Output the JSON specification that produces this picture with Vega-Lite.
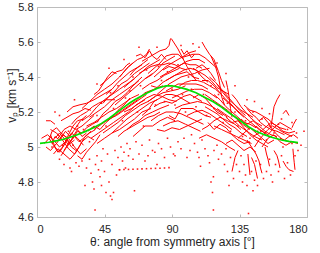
{
"$schema": "https://vega.github.io/schema/vega-lite/v6.json",
"width": 270, "height": 210,
"autosize": {"type": "none"},
"padding": {"left": 37, "top": 7, "right": 13, "bottom": 36},
"background": "white",
"config": {
 "view": {"stroke": "#bcbcbc", "strokeWidth": 1},
 "axis": {"labelFont": "Liberation Sans", "titleFont": "Liberation Sans", "labelFontSize": 11, "titleFontSize": 12, "titleFontWeight": "normal", "labelColor": "#262626", "titleColor": "#262626", "domainColor": "#bcbcbc", "tickColor": "#bcbcbc", "grid": false, "tickSize": -3}
},
"datasets": {
"trails": [
{"i":1,"t":3,"v":5.05},{"i":1,"t":7,"v":5.07},{"i":1,"t":11,"v":5.04},{"i":1,"t":15,"v":5.00},{"i":1,"t":19,"v":5.03},{"i":1,"t":23,"v":5.08},{"i":1,"t":27,"v":5.05},{"i":1,"t":31,"v":5.01},
{"i":2,"t":6,"v":5.00},{"i":2,"t":9,"v":4.98},{"i":2,"t":13,"v":5.02},{"i":2,"t":17,"v":5.07},{"i":2,"t":21,"v":5.05},{"i":2,"t":25,"v":5.00},{"i":2,"t":29,"v":4.96},{"i":2,"t":33,"v":4.99},
{"i":3,"t":9,"v":5.10},{"i":3,"t":13,"v":5.08},{"i":3,"t":17,"v":5.04},{"i":3,"t":21,"v":4.99},{"i":3,"t":25,"v":4.96},{"i":3,"t":28,"v":5.00},{"i":3,"t":32,"v":5.06},{"i":3,"t":36,"v":5.09},
{"i":4,"t":11,"v":4.96},{"i":4,"t":14,"v":4.99},{"i":4,"t":18,"v":4.96},{"i":4,"t":22,"v":4.93},{"i":4,"t":26,"v":4.97},{"i":4,"t":30,"v":5.03},{"i":4,"t":34,"v":5.06},{"i":4,"t":38,"v":5.04},
{"i":5,"t":14,"v":5.05},{"i":5,"t":18,"v":5.10},{"i":5,"t":22,"v":5.12},{"i":5,"t":26,"v":5.10},{"i":5,"t":30,"v":5.12},{"i":5,"t":34,"v":5.15},{"i":5,"t":38,"v":5.18},
{"i":6,"t":16,"v":5.15},{"i":6,"t":20,"v":5.17},{"i":6,"t":24,"v":5.19},{"i":6,"t":28,"v":5.20},{"i":6,"t":32,"v":5.22},{"i":6,"t":36,"v":5.21},
{"i":7,"t":6,"v":5.15},{"i":7,"t":9,"v":5.15},{"i":7,"t":12,"v":5.13},
{"i":8,"t":18,"v":4.98},{"i":8,"t":21,"v":5.02},{"i":8,"t":24,"v":5.05},{"i":8,"t":27,"v":5.09},{"i":8,"t":30,"v":5.08},{"i":8,"t":33,"v":5.11},{"i":8,"t":37,"v":5.13},{"i":8,"t":41,"v":5.15},
{"i":9,"t":20,"v":5.20},{"i":9,"t":24,"v":5.23},{"i":9,"t":28,"v":5.24},{"i":9,"t":33,"v":5.25},{"i":9,"t":38,"v":5.27},{"i":9,"t":44,"v":5.30},{"i":9,"t":50,"v":5.33},
{"i":10,"t":10,"v":5.02},{"i":10,"t":12,"v":5.06},{"i":10,"t":15,"v":5.04},{"i":10,"t":19,"v":5.09},{"i":10,"t":22,"v":5.06},{"i":10,"t":25,"v":5.10},{"i":10,"t":29,"v":5.15},{"i":10,"t":33,"v":5.18},
{"i":11,"t":23,"v":5.13},{"i":11,"t":26,"v":5.16},{"i":11,"t":29,"v":5.18},{"i":11,"t":33,"v":5.20},{"i":11,"t":37,"v":5.23},{"i":11,"t":41,"v":5.25},{"i":11,"t":46,"v":5.27},{"i":11,"t":52,"v":5.27},
{"i":12,"t":27,"v":4.95},{"i":12,"t":30,"v":4.93},{"i":12,"t":33,"v":4.97},{"i":12,"t":36,"v":5.00},{"i":12,"t":39,"v":5.03},{"i":12,"t":42,"v":5.07},
{"i":13,"t":8,"v":5.04},{"i":13,"t":10,"v":5.09},{"i":13,"t":13,"v":5.11},{"i":13,"t":16,"v":5.08},{"i":13,"t":19,"v":5.06},{"i":13,"t":22,"v":5.02},{"i":13,"t":25,"v":5.04},
{"i":14,"t":30,"v":5.22},{"i":14,"t":35,"v":5.26},{"i":14,"t":40,"v":5.30},{"i":14,"t":45,"v":5.33},{"i":14,"t":50,"v":5.36},{"i":14,"t":55,"v":5.40},{"i":14,"t":60,"v":5.45},{"i":14,"t":64,"v":5.48},
{"i":15,"t":35,"v":5.17},{"i":15,"t":40,"v":5.20},{"i":15,"t":45,"v":5.23},{"i":15,"t":50,"v":5.27},{"i":15,"t":55,"v":5.30},{"i":15,"t":60,"v":5.33},{"i":15,"t":65,"v":5.36},{"i":15,"t":70,"v":5.40},
{"i":16,"t":33,"v":5.12},{"i":16,"t":38,"v":5.14},{"i":16,"t":43,"v":5.17},{"i":16,"t":48,"v":5.20},{"i":16,"t":53,"v":5.22},{"i":16,"t":58,"v":5.25},{"i":16,"t":63,"v":5.28},{"i":16,"t":68,"v":5.30},
{"i":17,"t":36,"v":5.05},{"i":17,"t":41,"v":5.08},{"i":17,"t":46,"v":5.11},{"i":17,"t":51,"v":5.14},{"i":17,"t":56,"v":5.17},{"i":17,"t":61,"v":5.20},{"i":17,"t":66,"v":5.24},{"i":17,"t":72,"v":5.27},
{"i":18,"t":40,"v":5.02},{"i":18,"t":45,"v":5.05},{"i":18,"t":50,"v":5.08},{"i":18,"t":55,"v":5.10},{"i":18,"t":60,"v":5.13},{"i":18,"t":65,"v":5.16},{"i":18,"t":70,"v":5.20},{"i":18,"t":76,"v":5.22},
{"i":19,"t":42,"v":5.35},{"i":19,"t":46,"v":5.38},{"i":19,"t":50,"v":5.41},{"i":19,"t":53,"v":5.43},{"i":19,"t":57,"v":5.44},{"i":19,"t":60,"v":5.47},{"i":19,"t":62,"v":5.48},
{"i":20,"t":44,"v":5.25},{"i":20,"t":48,"v":5.29},{"i":20,"t":52,"v":5.32},{"i":20,"t":56,"v":5.36},{"i":20,"t":60,"v":5.38},{"i":20,"t":65,"v":5.42},{"i":20,"t":70,"v":5.45},{"i":20,"t":75,"v":5.48},
{"i":21,"t":47,"v":5.15},{"i":21,"t":52,"v":5.18},{"i":21,"t":57,"v":5.21},{"i":21,"t":62,"v":5.24},{"i":21,"t":67,"v":5.27},{"i":21,"t":72,"v":5.31},{"i":21,"t":78,"v":5.33},{"i":21,"t":84,"v":5.35},
{"i":22,"t":50,"v":5.08},{"i":22,"t":55,"v":5.12},{"i":22,"t":60,"v":5.16},{"i":22,"t":65,"v":5.19},{"i":22,"t":70,"v":5.22},{"i":22,"t":75,"v":5.25},{"i":22,"t":80,"v":5.27},
{"i":23,"t":52,"v":5.24},{"i":23,"t":56,"v":5.27},{"i":23,"t":60,"v":5.30},{"i":23,"t":64,"v":5.33},{"i":23,"t":68,"v":5.36},{"i":23,"t":72,"v":5.39},{"i":23,"t":77,"v":5.42},
{"i":24,"t":55,"v":5.40},{"i":24,"t":58,"v":5.43},{"i":24,"t":61,"v":5.46},{"i":24,"t":64,"v":5.48},{"i":24,"t":67,"v":5.50},{"i":24,"t":70,"v":5.51},{"i":24,"t":73,"v":5.53},{"i":24,"t":75,"v":5.56},
{"i":25,"t":58,"v":5.34},{"i":25,"t":62,"v":5.37},{"i":25,"t":66,"v":5.40},{"i":25,"t":70,"v":5.43},{"i":25,"t":74,"v":5.46},{"i":25,"t":78,"v":5.48},{"i":25,"t":82,"v":5.50},
{"i":26,"t":38,"v":5.30},{"i":26,"t":41,"v":5.32},{"i":26,"t":44,"v":5.36},{"i":26,"t":47,"v":5.40},{"i":26,"t":50,"v":5.43},{"i":26,"t":53,"v":5.42},
{"i":27,"t":60,"v":5.10},{"i":27,"t":64,"v":5.13},{"i":27,"t":68,"v":5.15},{"i":27,"t":72,"v":5.18},{"i":27,"t":77,"v":5.20},{"i":27,"t":82,"v":5.22},{"i":27,"t":88,"v":5.24},
{"i":28,"t":66,"v":5.52},{"i":28,"t":69,"v":5.53},{"i":28,"t":72,"v":5.51},{"i":28,"t":75,"v":5.55},{"i":28,"t":77,"v":5.52},{"i":28,"t":80,"v":5.50},{"i":28,"t":83,"v":5.53},{"i":28,"t":86,"v":5.50},
{"i":29,"t":70,"v":5.49},{"i":29,"t":74,"v":5.51},{"i":29,"t":78,"v":5.53},{"i":29,"t":82,"v":5.55},{"i":29,"t":86,"v":5.56},{"i":29,"t":88,"v":5.58},{"i":29,"t":89,"v":5.62},
{"i":30,"t":89.5,"v":5.62},{"i":30,"t":91,"v":5.60},{"i":30,"t":94,"v":5.56},{"i":30,"t":97,"v":5.51},{"i":30,"t":100,"v":5.46},{"i":30,"t":103,"v":5.42},{"i":30,"t":106,"v":5.38},
{"i":31,"t":110,"v":5.60},{"i":31,"t":112,"v":5.57},{"i":31,"t":115,"v":5.53},{"i":31,"t":118,"v":5.50},{"i":31,"t":121,"v":5.43},{"i":31,"t":123,"v":5.38},{"i":31,"t":125,"v":5.34},
{"i":32,"t":116,"v":5.52},{"i":32,"t":119,"v":5.46},{"i":32,"t":121,"v":5.40},{"i":32,"t":122,"v":5.35},{"i":32,"t":123,"v":5.29},{"i":32,"t":125,"v":5.24},
{"i":33,"t":126,"v":5.38},{"i":33,"t":127,"v":5.34},{"i":33,"t":128,"v":5.29},{"i":33,"t":129,"v":5.22},{"i":33,"t":130,"v":5.17},
{"i":34,"t":78,"v":5.40},{"i":34,"t":82,"v":5.43},{"i":34,"t":86,"v":5.46},{"i":34,"t":90,"v":5.48},{"i":34,"t":94,"v":5.50},{"i":34,"t":98,"v":5.52},{"i":34,"t":102,"v":5.54},{"i":34,"t":106,"v":5.55},
{"i":35,"t":80,"v":5.30},{"i":35,"t":84,"v":5.33},{"i":35,"t":88,"v":5.36},{"i":35,"t":92,"v":5.38},{"i":35,"t":96,"v":5.40},{"i":35,"t":100,"v":5.41},{"i":35,"t":105,"v":5.42},{"i":35,"t":110,"v":5.44},{"i":35,"t":115,"v":5.45},
{"i":36,"t":84,"v":5.44},{"i":36,"t":88,"v":5.46},{"i":36,"t":92,"v":5.45},{"i":36,"t":96,"v":5.47},{"i":36,"t":100,"v":5.49},{"i":36,"t":104,"v":5.50},{"i":36,"t":108,"v":5.50},{"i":36,"t":112,"v":5.48},
{"i":37,"t":86,"v":5.38},{"i":37,"t":90,"v":5.40},{"i":37,"t":94,"v":5.42},{"i":37,"t":98,"v":5.44},{"i":37,"t":102,"v":5.45},{"i":37,"t":106,"v":5.44},{"i":37,"t":110,"v":5.40},{"i":37,"t":114,"v":5.37},
{"i":38,"t":90,"v":5.28},{"i":38,"t":95,"v":5.30},{"i":38,"t":100,"v":5.32},{"i":38,"t":105,"v":5.33},{"i":38,"t":110,"v":5.33},{"i":38,"t":115,"v":5.31},{"i":38,"t":120,"v":5.28},
{"i":39,"t":92,"v":5.22},{"i":39,"t":97,"v":5.24},{"i":39,"t":102,"v":5.25},{"i":39,"t":107,"v":5.26},{"i":39,"t":112,"v":5.25},{"i":39,"t":117,"v":5.23},{"i":39,"t":122,"v":5.20},{"i":39,"t":127,"v":5.17},
{"i":40,"t":95,"v":5.35},{"i":40,"t":99,"v":5.37},{"i":40,"t":103,"v":5.38},{"i":40,"t":107,"v":5.38},{"i":40,"t":111,"v":5.37},{"i":40,"t":115,"v":5.35},{"i":40,"t":119,"v":5.33},{"i":40,"t":123,"v":5.30},
{"i":41,"t":100,"v":5.18},{"i":41,"t":105,"v":5.20},{"i":41,"t":110,"v":5.21},{"i":41,"t":115,"v":5.19},{"i":41,"t":120,"v":5.16},{"i":41,"t":125,"v":5.13},{"i":41,"t":130,"v":5.10},
{"i":42,"t":70,"v":5.33},{"i":42,"t":75,"v":5.36},{"i":42,"t":80,"v":5.38},{"i":42,"t":85,"v":5.41},{"i":42,"t":90,"v":5.43},{"i":42,"t":95,"v":5.45},
{"i":43,"t":74,"v":5.26},{"i":43,"t":79,"v":5.29},{"i":43,"t":84,"v":5.31},{"i":43,"t":89,"v":5.32},{"i":43,"t":94,"v":5.33},{"i":43,"t":99,"v":5.35},
{"i":44,"t":76,"v":5.15},{"i":44,"t":81,"v":5.18},{"i":44,"t":86,"v":5.20},{"i":44,"t":91,"v":5.20},{"i":44,"t":96,"v":5.19},{"i":44,"t":101,"v":5.17},{"i":44,"t":106,"v":5.15},{"i":44,"t":111,"v":5.13},
{"i":45,"t":84,"v":5.12},{"i":45,"t":89,"v":5.14},{"i":45,"t":94,"v":5.15},{"i":45,"t":99,"v":5.13},{"i":45,"t":104,"v":5.11},{"i":45,"t":109,"v":5.09},
{"i":46,"t":96,"v":5.56},{"i":46,"t":98,"v":5.53},{"i":46,"t":100,"v":5.55},{"i":46,"t":103,"v":5.51},{"i":46,"t":105,"v":5.53},
{"i":47,"t":62,"v":5.41},{"i":47,"t":65,"v":5.44},{"i":47,"t":68,"v":5.46},{"i":47,"t":71,"v":5.48},{"i":47,"t":74,"v":5.50},
{"i":48,"t":112,"v":5.30},{"i":48,"t":117,"v":5.27},{"i":48,"t":122,"v":5.24},{"i":48,"t":127,"v":5.21},{"i":48,"t":132,"v":5.17},{"i":48,"t":137,"v":5.13},{"i":48,"t":142,"v":5.10},
{"i":49,"t":115,"v":5.40},{"i":49,"t":119,"v":5.37},{"i":49,"t":123,"v":5.33},{"i":49,"t":127,"v":5.29},{"i":49,"t":131,"v":5.25},{"i":49,"t":135,"v":5.21},{"i":49,"t":139,"v":5.18},
{"i":50,"t":118,"v":5.12},{"i":50,"t":123,"v":5.10},{"i":50,"t":128,"v":5.08},{"i":50,"t":133,"v":5.06},{"i":50,"t":138,"v":5.04},{"i":50,"t":143,"v":5.02},
{"i":51,"t":120,"v":5.22},{"i":51,"t":125,"v":5.19},{"i":51,"t":130,"v":5.16},{"i":51,"t":135,"v":5.12},{"i":51,"t":140,"v":5.09},{"i":51,"t":145,"v":5.06},{"i":51,"t":150,"v":5.04},
{"i":52,"t":124,"v":5.28},{"i":52,"t":128,"v":5.25},{"i":52,"t":132,"v":5.22},{"i":52,"t":136,"v":5.19},{"i":52,"t":140,"v":5.16},{"i":52,"t":144,"v":5.13},{"i":52,"t":148,"v":5.10},{"i":52,"t":152,"v":5.08},
{"i":53,"t":130,"v":5.30},{"i":53,"t":133,"v":5.27},{"i":53,"t":136,"v":5.23},{"i":53,"t":139,"v":5.20},{"i":53,"t":142,"v":5.17},{"i":53,"t":146,"v":5.14},{"i":53,"t":150,"v":5.12},
{"i":54,"t":134,"v":5.05},{"i":54,"t":138,"v":5.08},{"i":54,"t":142,"v":5.11},{"i":54,"t":146,"v":5.08},{"i":54,"t":150,"v":5.05},{"i":54,"t":154,"v":5.02},{"i":54,"t":158,"v":5.04},
{"i":55,"t":136,"v":5.16},{"i":55,"t":140,"v":5.13},{"i":55,"t":144,"v":5.15},{"i":55,"t":148,"v":5.12},{"i":55,"t":152,"v":5.09},{"i":55,"t":156,"v":5.07},{"i":55,"t":160,"v":5.06},
{"i":56,"t":140,"v":5.22},{"i":56,"t":143,"v":5.19},{"i":56,"t":146,"v":5.17},{"i":56,"t":149,"v":5.14},{"i":56,"t":152,"v":5.12},{"i":56,"t":156,"v":5.10},{"i":56,"t":160,"v":5.09},{"i":56,"t":165,"v":5.07},
{"i":57,"t":145,"v":5.00},{"i":57,"t":148,"v":5.04},{"i":57,"t":151,"v":5.07},{"i":57,"t":154,"v":5.10},{"i":57,"t":157,"v":5.12},{"i":57,"t":161,"v":5.10},{"i":57,"t":165,"v":5.08},{"i":57,"t":170,"v":5.06},
{"i":58,"t":148,"v":5.15},{"i":58,"t":151,"v":5.17},{"i":58,"t":154,"v":5.14},{"i":58,"t":157,"v":5.10},{"i":58,"t":160,"v":5.07},{"i":58,"t":164,"v":5.04},{"i":58,"t":168,"v":5.03},
{"i":59,"t":156,"v":5.12},{"i":59,"t":157,"v":5.17},{"i":59,"t":158,"v":5.23},{"i":59,"t":160,"v":5.27},{"i":59,"t":162,"v":5.30},
{"i":60,"t":164,"v":5.19},{"i":60,"t":166,"v":5.21},{"i":60,"t":168,"v":5.18},
{"i":61,"t":170,"v":5.11},{"i":61,"t":171,"v":5.13},{"i":61,"t":173,"v":5.16},
{"i":62,"t":162,"v":5.05},{"i":62,"t":165,"v":5.04},{"i":62,"t":168,"v":5.06},{"i":62,"t":171,"v":5.07},{"i":62,"t":174,"v":5.05},
{"i":63,"t":126,"v":5.02},{"i":63,"t":130,"v":5.04},{"i":63,"t":134,"v":5.01},{"i":63,"t":138,"v":4.98},{"i":63,"t":142,"v":5.00},{"i":63,"t":146,"v":4.97},
{"i":64,"t":108,"v":5.05},{"i":64,"t":113,"v":5.07},{"i":64,"t":118,"v":5.05},{"i":64,"t":123,"v":5.03},{"i":64,"t":128,"v":5.00},{"i":64,"t":132,"v":4.98},
{"i":65,"t":140,"v":5.04},{"i":65,"t":143,"v":5.00},{"i":65,"t":146,"v":4.96},{"i":65,"t":148,"v":4.92},{"i":65,"t":149,"v":4.88},{"i":65,"t":150,"v":4.85},
{"i":66,"t":140.6,"v":4.96},{"i":66,"t":141,"v":4.92},{"i":66,"t":141.5,"v":4.88},{"i":66,"t":142,"v":4.84},
{"i":67,"t":152,"v":5.00},{"i":67,"t":153,"v":4.96},{"i":67,"t":154,"v":4.93},{"i":67,"t":155,"v":4.89},
{"i":68,"t":143,"v":4.94},{"i":68,"t":145,"v":4.90},{"i":68,"t":146,"v":4.86},{"i":68,"t":147,"v":4.82},
{"i":69,"t":164,"v":4.92},{"i":69,"t":166,"v":4.89},{"i":69,"t":168,"v":4.87},{"i":69,"t":171,"v":4.86},
{"i":70,"t":170.6,"v":4.99},{"i":70,"t":171,"v":4.95},{"i":70,"t":171.5,"v":4.91},{"i":70,"t":172,"v":4.87},
{"i":71,"t":130,"v":4.86},{"i":71,"t":131,"v":4.90},{"i":71,"t":132,"v":4.94},{"i":71,"t":134,"v":4.98},
{"i":72,"t":158,"v":4.98},{"i":72,"t":160,"v":4.95},{"i":72,"t":161,"v":4.92},{"i":72,"t":162,"v":4.88},
{"i":73,"t":110,"v":5.10},{"i":73,"t":114,"v":5.12},{"i":73,"t":118,"v":5.15},{"i":73,"t":122,"v":5.17},{"i":73,"t":127,"v":5.15},{"i":73,"t":132,"v":5.13},{"i":73,"t":136,"v":5.10},
{"i":74,"t":104,"v":5.28},{"i":74,"t":108,"v":5.30},{"i":74,"t":112,"v":5.28},{"i":74,"t":116,"v":5.24},{"i":74,"t":120,"v":5.20},{"i":74,"t":124,"v":5.18},
{"i":75,"t":106,"v":5.45},{"i":75,"t":110,"v":5.47},{"i":75,"t":113,"v":5.45},{"i":75,"t":116,"v":5.42},{"i":75,"t":119,"v":5.38},
{"i":76,"t":58,"v":5.20},{"i":76,"t":63,"v":5.22},{"i":76,"t":68,"v":5.25},{"i":76,"t":73,"v":5.28},{"i":76,"t":78,"v":5.30},{"i":76,"t":83,"v":5.29},{"i":76,"t":88,"v":5.27},{"i":76,"t":93,"v":5.26},
{"i":77,"t":64,"v":5.06},{"i":77,"t":68,"v":5.09},{"i":77,"t":72,"v":5.12},{"i":77,"t":77,"v":5.12},{"i":77,"t":82,"v":5.15},{"i":77,"t":87,"v":5.17},{"i":77,"t":92,"v":5.15},
{"i":78,"t":72,"v":5.39},{"i":78,"t":76,"v":5.41},{"i":78,"t":80,"v":5.44},{"i":78,"t":84,"v":5.48},{"i":78,"t":88,"v":5.50},{"i":78,"t":92,"v":5.52},
{"i":79,"t":5,"v":5.02},{"i":79,"t":8,"v":5.05},{"i":79,"t":11,"v":5.01},{"i":79,"t":14,"v":4.97},{"i":79,"t":17,"v":5.00},{"i":79,"t":20,"v":5.04},{"i":79,"t":23,"v":5.00},{"i":79,"t":26,"v":4.98},
{"i":80,"t":12,"v":5.05},{"i":80,"t":15,"v":5.08},{"i":80,"t":18,"v":5.05},{"i":80,"t":21,"v":5.01},{"i":80,"t":24,"v":5.06},{"i":80,"t":27,"v":5.10},{"i":80,"t":30,"v":5.06},{"i":80,"t":33,"v":5.08},
{"i":81,"t":16,"v":4.95},{"i":81,"t":19,"v":4.99},{"i":81,"t":22,"v":5.03},{"i":81,"t":25,"v":5.06},{"i":81,"t":28,"v":5.03},{"i":81,"t":31,"v":5.05},{"i":81,"t":35,"v":5.08},{"i":81,"t":39,"v":5.10},
{"i":82,"t":9,"v":5.07},{"i":82,"t":12,"v":5.00},{"i":82,"t":15,"v":4.97},{"i":82,"t":18,"v":5.01},{"i":82,"t":21,"v":5.07},{"i":82,"t":24,"v":5.12},{"i":82,"t":27,"v":5.15},{"i":82,"t":31,"v":5.16},
{"i":83,"t":30,"v":5.15},{"i":83,"t":35,"v":5.18},{"i":83,"t":40,"v":5.23},{"i":83,"t":45,"v":5.27},{"i":83,"t":50,"v":5.30},{"i":83,"t":55,"v":5.33},{"i":83,"t":60,"v":5.36},{"i":83,"t":65,"v":5.39},
{"i":84,"t":38,"v":5.10},{"i":84,"t":43,"v":5.13},{"i":84,"t":48,"v":5.16},{"i":84,"t":53,"v":5.18},{"i":84,"t":58,"v":5.21},{"i":84,"t":63,"v":5.24},{"i":84,"t":68,"v":5.27},{"i":84,"t":73,"v":5.30},
{"i":85,"t":44,"v":5.08},{"i":85,"t":49,"v":5.11},{"i":85,"t":54,"v":5.14},{"i":85,"t":59,"v":5.18},{"i":85,"t":64,"v":5.21},{"i":85,"t":69,"v":5.24},{"i":85,"t":74,"v":5.26},{"i":85,"t":79,"v":5.29},
{"i":86,"t":46,"v":5.30},{"i":86,"t":50,"v":5.33},{"i":86,"t":54,"v":5.37},{"i":86,"t":58,"v":5.40},{"i":86,"t":62,"v":5.43},{"i":86,"t":66,"v":5.45},{"i":86,"t":70,"v":5.47},
{"i":87,"t":54,"v":5.06},{"i":87,"t":58,"v":5.09},{"i":87,"t":62,"v":5.11},{"i":87,"t":66,"v":5.13},{"i":87,"t":70,"v":5.15},{"i":87,"t":74,"v":5.17},{"i":87,"t":78,"v":5.18},{"i":87,"t":82,"v":5.20},
{"i":88,"t":34,"v":5.09},{"i":88,"t":38,"v":5.12},{"i":88,"t":42,"v":5.10},{"i":88,"t":46,"v":5.14},{"i":88,"t":50,"v":5.17},{"i":88,"t":54,"v":5.21},{"i":88,"t":58,"v":5.24},{"i":88,"t":62,"v":5.28},
{"i":89,"t":40,"v":5.14},{"i":89,"t":44,"v":5.19},{"i":89,"t":48,"v":5.22},{"i":89,"t":52,"v":5.26},{"i":89,"t":56,"v":5.28},{"i":89,"t":60,"v":5.31},{"i":89,"t":64,"v":5.35},{"i":89,"t":68,"v":5.38},
{"i":90,"t":68,"v":5.42},{"i":90,"t":72,"v":5.44},{"i":90,"t":76,"v":5.46},{"i":90,"t":80,"v":5.47},{"i":90,"t":84,"v":5.47},{"i":90,"t":88,"v":5.48},{"i":90,"t":92,"v":5.47},{"i":90,"t":96,"v":5.45},{"i":90,"t":100,"v":5.44},
{"i":91,"t":76,"v":5.35},{"i":91,"t":80,"v":5.34},{"i":91,"t":84,"v":5.37},{"i":91,"t":88,"v":5.39},{"i":91,"t":92,"v":5.41},{"i":91,"t":96,"v":5.42},{"i":91,"t":100,"v":5.43},{"i":91,"t":104,"v":5.40},{"i":91,"t":108,"v":5.39},
{"i":92,"t":78,"v":5.23},{"i":92,"t":82,"v":5.25},{"i":92,"t":86,"v":5.26},{"i":92,"t":90,"v":5.25},{"i":92,"t":94,"v":5.27},{"i":92,"t":98,"v":5.29},{"i":92,"t":102,"v":5.30},{"i":92,"t":106,"v":5.28},{"i":92,"t":110,"v":5.26},
{"i":93,"t":82,"v":5.40},{"i":93,"t":86,"v":5.42},{"i":93,"t":90,"v":5.44},{"i":93,"t":94,"v":5.46},{"i":93,"t":98,"v":5.48},{"i":93,"t":102,"v":5.47},{"i":93,"t":106,"v":5.47},{"i":93,"t":110,"v":5.45},
{"i":94,"t":86,"v":5.32},{"i":94,"t":90,"v":5.34},{"i":94,"t":94,"v":5.36},{"i":94,"t":98,"v":5.36},{"i":94,"t":102,"v":5.36},{"i":94,"t":106,"v":5.36},{"i":94,"t":110,"v":5.35},{"i":94,"t":114,"v":5.33},
{"i":95,"t":70,"v":5.18},{"i":95,"t":74,"v":5.21},{"i":95,"t":78,"v":5.26},{"i":95,"t":82,"v":5.28},{"i":95,"t":86,"v":5.30},{"i":95,"t":90,"v":5.30},{"i":95,"t":94,"v":5.29},{"i":95,"t":98,"v":5.27},{"i":95,"t":102,"v":5.25},
{"i":96,"t":88,"v":5.18},{"i":96,"t":92,"v":5.16},{"i":96,"t":96,"v":5.22},{"i":96,"t":100,"v":5.22},{"i":96,"t":104,"v":5.22},{"i":96,"t":108,"v":5.20},{"i":96,"t":112,"v":5.18},{"i":96,"t":116,"v":5.17},
{"i":97,"t":80,"v":5.10},{"i":97,"t":85,"v":5.09},{"i":97,"t":90,"v":5.11},{"i":97,"t":95,"v":5.10},{"i":97,"t":100,"v":5.12},{"i":97,"t":105,"v":5.14},{"i":97,"t":110,"v":5.16},
{"i":98,"t":74,"v":5.42},{"i":98,"t":78,"v":5.45},{"i":98,"t":82,"v":5.48},{"i":98,"t":86,"v":5.52},{"i":98,"t":90,"v":5.53},{"i":98,"t":94,"v":5.53},{"i":98,"t":98,"v":5.50},
{"i":99,"t":96,"v":5.51},{"i":99,"t":100,"v":5.52},{"i":99,"t":104,"v":5.53},{"i":99,"t":108,"v":5.53},{"i":99,"t":112,"v":5.51},{"i":99,"t":116,"v":5.48},{"i":99,"t":120,"v":5.45},
{"i":100,"t":110,"v":5.38},{"i":100,"t":114,"v":5.38},{"i":100,"t":118,"v":5.35},{"i":100,"t":122,"v":5.31},{"i":100,"t":126,"v":5.27},{"i":100,"t":130,"v":5.24},{"i":100,"t":134,"v":5.20},{"i":100,"t":138,"v":5.17},
{"i":101,"t":112,"v":5.23},{"i":101,"t":116,"v":5.21},{"i":101,"t":120,"v":5.19},{"i":101,"t":124,"v":5.16},{"i":101,"t":128,"v":5.13},{"i":101,"t":132,"v":5.11},{"i":101,"t":136,"v":5.08},{"i":101,"t":140,"v":5.06},
{"i":102,"t":114,"v":5.14},{"i":102,"t":118,"v":5.10},{"i":102,"t":122,"v":5.13},{"i":102,"t":126,"v":5.11},{"i":102,"t":130,"v":5.07},{"i":102,"t":134,"v":5.04},{"i":102,"t":138,"v":5.02},{"i":102,"t":142,"v":5.03},
{"i":103,"t":118,"v":5.30},{"i":103,"t":122,"v":5.27},{"i":103,"t":126,"v":5.23},{"i":103,"t":130,"v":5.20},{"i":103,"t":134,"v":5.17},{"i":103,"t":138,"v":5.14},{"i":103,"t":142,"v":5.13},{"i":103,"t":146,"v":5.11},
{"i":104,"t":120,"v":5.36},{"i":104,"t":124,"v":5.31},{"i":104,"t":128,"v":5.27},{"i":104,"t":132,"v":5.24},{"i":104,"t":136,"v":5.21},{"i":104,"t":140,"v":5.19},{"i":104,"t":144,"v":5.17},
{"i":105,"t":126,"v":5.17},{"i":105,"t":130,"v":5.14},{"i":105,"t":134,"v":5.15},{"i":105,"t":138,"v":5.11},{"i":105,"t":142,"v":5.07},{"i":105,"t":146,"v":5.04},{"i":105,"t":150,"v":5.02},{"i":105,"t":154,"v":5.00},
{"i":106,"t":104,"v":5.45},{"i":106,"t":108,"v":5.43},{"i":106,"t":112,"v":5.41},{"i":106,"t":116,"v":5.38},{"i":106,"t":120,"v":5.34},{"i":106,"t":124,"v":5.32},{"i":106,"t":128,"v":5.30},
{"i":107,"t":138,"v":5.24},{"i":107,"t":142,"v":5.21},{"i":107,"t":146,"v":5.20},{"i":107,"t":150,"v":5.18},{"i":107,"t":154,"v":5.16},{"i":107,"t":158,"v":5.13},{"i":107,"t":162,"v":5.11},{"i":107,"t":166,"v":5.10},
{"i":108,"t":144,"v":5.06},{"i":108,"t":148,"v":5.08},{"i":108,"t":152,"v":5.11},{"i":108,"t":156,"v":5.14},{"i":108,"t":160,"v":5.12},{"i":108,"t":164,"v":5.09},{"i":108,"t":168,"v":5.08},{"i":108,"t":172,"v":5.09},
{"i":109,"t":150,"v":5.00},{"i":109,"t":154,"v":5.05},{"i":109,"t":158,"v":5.07},{"i":109,"t":162,"v":5.03},{"i":109,"t":166,"v":5.01},{"i":109,"t":170,"v":5.03},{"i":109,"t":174,"v":5.02},
{"i":110,"t":146,"v":5.12},{"i":110,"t":150,"v":5.09},{"i":110,"t":154,"v":5.07},{"i":110,"t":158,"v":5.11},{"i":110,"t":162,"v":5.14},{"i":110,"t":166,"v":5.12},{"i":110,"t":170,"v":5.10}
],
"dots": [
{"t":15,"v":4.93},{"t":18,"v":4.90},{"t":22,"v":4.88},{"t":23,"v":4.86},{"t":26,"v":4.91},{"t":28,"v":4.89},{"t":30,"v":4.92},{"t":32,"v":4.78},{"t":33,"v":4.88},{"t":35,"v":4.93},{"t":36,"v":4.85},{"t":37,"v":4.80},{"t":38,"v":4.76},{"t":38.7,"v":4.64},{"t":39,"v":4.90},{"t":40,"v":4.95},{"t":41,"v":4.87},{"t":42,"v":4.83},{"t":43,"v":4.78},{"t":43,"v":4.92},{"t":44,"v":4.99},{"t":45,"v":4.86},{"t":46,"v":4.74},{"t":47,"v":4.96},{"t":48,"v":4.80},{"t":49,"v":4.72},{"t":50,"v":4.70},{"t":50,"v":4.90},{"t":51,"v":4.74},{"t":52,"v":4.98},{"t":53,"v":4.84},{"t":54,"v":4.94},{"t":55,"v":4.87},{"t":56,"v":5.00},{"t":57,"v":4.92},{"t":58,"v":4.97},{"t":59,"v":4.88},{"t":60,"v":5.02},{"t":61,"v":4.95},
{"t":55,"v":4.870},{"t":58,"v":4.871},{"t":61,"v":4.872},{"t":64,"v":4.873},{"t":67,"v":4.874},{"t":70,"v":4.875},{"t":73,"v":4.876},{"t":76,"v":4.877},{"t":79,"v":4.878},{"t":82,"v":4.879},{"t":85,"v":4.880},{"t":88,"v":4.882},
{"t":62,"v":4.99},{"t":64,"v":4.93},{"t":65,"v":4.75},{"t":66,"v":5.03},{"t":68,"v":4.96},{"t":70,"v":5.01},{"t":72,"v":4.92},{"t":74,"v":4.95},{"t":75,"v":5.04},{"t":77,"v":4.98},{"t":78.6,"v":4.97},{"t":80,"v":4.90},{"t":81,"v":5.02},{"t":83,"v":4.99},{"t":85,"v":4.94},{"t":87,"v":5.05},{"t":89,"v":5.00},{"t":91,"v":4.96},{"t":92,"v":4.95},{"t":94,"v":5.03},{"t":96,"v":4.99},{"t":98,"v":5.05},{"t":100,"v":4.94},{"t":102,"v":4.98},{"t":103,"v":5.07},{"t":105,"v":5.02},{"t":107,"v":4.97},{"t":108,"v":4.94},{"t":109,"v":4.89},{"t":110,"v":5.04},{"t":112,"v":4.99},{"t":114,"v":4.95},{"t":115,"v":4.91},{"t":116,"v":4.80},{"t":117,"v":4.74},{"t":117.6,"v":4.83},{"t":117.6,"v":4.64},{"t":118,"v":4.98},{"t":120,"v":5.01},{"t":121,"v":4.93},{"t":123,"v":4.96},{"t":125,"v":4.90},{"t":126,"v":4.99},{"t":127,"v":4.86},{"t":128,"v":4.78},{"t":129,"v":4.94},
{"t":131,"v":4.82},{"t":133,"v":4.90},{"t":135,"v":4.86},{"t":136,"v":4.95},{"t":137,"v":4.80},{"t":138,"v":4.90},{"t":139,"v":4.84},{"t":140,"v":4.78},{"t":141,"v":4.62},{"t":143,"v":4.86},{"t":144,"v":4.75},{"t":145,"v":4.81},{"t":146,"v":4.92},{"t":147,"v":4.78},{"t":149,"v":4.90},{"t":151,"v":4.82},{"t":153,"v":4.86},{"t":155,"v":4.93},{"t":156,"v":4.84},{"t":157,"v":4.80},{"t":159,"v":4.90},{"t":161,"v":4.86},{"t":163,"v":4.95},{"t":165,"v":4.82},{"t":167,"v":4.91},{"t":169,"v":4.84},{"t":172,"v":4.95},{"t":174,"v":4.98},{"t":176,"v":5.01},
{"t":15,"v":5.18},{"t":12,"v":5.20},{"t":25,"v":5.27},{"t":40,"v":5.36},{"t":48,"v":5.45},{"t":58,"v":5.50},{"t":68,"v":5.57},{"t":80,"v":5.57},{"t":96,"v":5.58},{"t":104,"v":5.59},{"t":108,"v":5.57},{"t":120,"v":5.48},{"t":126,"v":5.42},{"t":132,"v":5.35},{"t":140,"v":5.27},{"t":145,"v":5.26},{"t":150,"v":5.22},{"t":155,"v":5.19},{"t":163,"v":5.16},{"t":170,"v":5.14},{"t":178,"v":5.09},
{"t":10,"v":5.00},{"t":14,"v":5.07},{"t":17,"v":5.01},{"t":21,"v":5.09},{"t":24,"v":5.01},{"t":27,"v":5.12},{"t":31,"v":5.10},{"t":35,"v":5.03},{"t":37,"v":5.11},{"t":40,"v":5.18},{"t":43,"v":5.25},{"t":46,"v":5.12},{"t":49,"v":5.31},{"t":51,"v":5.22},{"t":54,"v":5.35},{"t":57,"v":5.15},{"t":59,"v":5.28},{"t":62,"v":5.32},{"t":64,"v":5.40},{"t":67,"v":5.20},{"t":69,"v":5.35},{"t":71,"v":5.12},{"t":73,"v":5.44},{"t":76,"v":5.32},{"t":79,"v":5.24},{"t":81,"v":5.46},{"t":83,"v":5.38},{"t":85,"v":5.26},{"t":87,"v":5.43},{"t":90,"v":5.33},{"t":92,"v":5.24},{"t":94,"v":5.47},{"t":97,"v":5.30},{"t":99,"v":5.20},{"t":101,"v":5.40},{"t":103,"v":5.33},{"t":106,"v":5.23},{"t":108,"v":5.42},{"t":111,"v":5.30},{"t":113,"v":5.18},{"t":116,"v":5.35},{"t":118,"v":5.22},{"t":121,"v":5.30},{"t":124,"v":5.14},{"t":127,"v":5.25},{"t":129,"v":5.09},{"t":132,"v":5.20},{"t":134,"v":5.12},{"t":137,"v":5.06},{"t":139,"v":5.15},{"t":142,"v":5.05},{"t":144,"v":5.20},{"t":147,"v":5.09},{"t":150,"v":5.16},{"t":153,"v":5.04},{"t":155,"v":5.12},{"t":158,"v":5.08},{"t":161,"v":5.13},{"t":164,"v":5.00},{"t":167,"v":5.10},{"t":170,"v":5.02},{"t":173,"v":5.08}
],
"fit": [
{"t":2,"v":5.021},{"t":8,"v":5.027},{"t":12,"v":5.034},{"t":17,"v":5.043},{"t":21,"v":5.053},{"t":26,"v":5.067},{"t":32,"v":5.088},{"t":38,"v":5.112},{"t":43,"v":5.135},{"t":48,"v":5.163},{"t":54,"v":5.202},{"t":58,"v":5.228},{"t":62,"v":5.253},{"t":66,"v":5.274},{"t":70,"v":5.293},{"t":73,"v":5.307},{"t":77,"v":5.323},{"t":80,"v":5.335},{"t":83,"v":5.343},{"t":86,"v":5.349},{"t":90,"v":5.350},{"t":95,"v":5.341},{"t":100,"v":5.329},{"t":106,"v":5.310},{"t":112,"v":5.283},{"t":117.5,"v":5.259},{"t":123,"v":5.228},{"t":128,"v":5.196},{"t":134,"v":5.160},{"t":141,"v":5.116},{"t":146,"v":5.090},{"t":152,"v":5.069},{"t":157,"v":5.054},{"t":163,"v":5.040},{"t":168,"v":5.032},{"t":174,"v":5.025}
]
},
"resolve": {"axis": {"x": "independent", "y": "independent"}},
"layer": [
{
 "data": {"name": "trails"},
 "mark": {"type": "line", "color": "#ff0000", "strokeWidth": 1},
 "encoding": {
  "x": {"field": "t", "type": "quantitative", "scale": {"domain": [0, 180], "nice": false},
        "axis": {"values": [0, 45, 90, 135, 180], "title": "θ: angle from symmetry axis [°]", "labelPadding": 9, "titlePadding": 2}},
  "y": {"field": "v", "type": "quantitative", "scale": {"domain": [4.6, 5.8], "nice": false, "zero": false},
        "axis": {"values": [4.6, 4.8, 5, 5.2, 5.4, 5.6, 5.8], "format": "~g", "title": "vₚ [km s⁻¹]", "labelPadding": 7, "titleX": -19, "titleY": 88}},
  "detail": {"field": "i"}
 }
},
{
 "data": {"name": "dots"},
 "mark": {"type": "square", "color": "#ff0000", "size": 2.5, "opacity": 0.9},
 "encoding": {
  "x": {"field": "t", "type": "quantitative", "axis": null},
  "y": {"field": "v", "type": "quantitative", "axis": null}
 }
},
{
 "data": {"name": "fit"},
 "mark": {"type": "line", "color": "#00e000", "strokeWidth": 1.7},
 "encoding": {
  "x": {"field": "t", "type": "quantitative", "axis": {"orient": "top", "values": [0, 45, 90, 135, 180], "labels": false, "title": null, "domain": false}},
  "y": {"field": "v", "type": "quantitative", "axis": {"orient": "right", "values": [4.6, 4.8, 5, 5.2, 5.4, 5.6, 5.8], "labels": false, "title": null, "domain": false}}
 }
}
]
}
